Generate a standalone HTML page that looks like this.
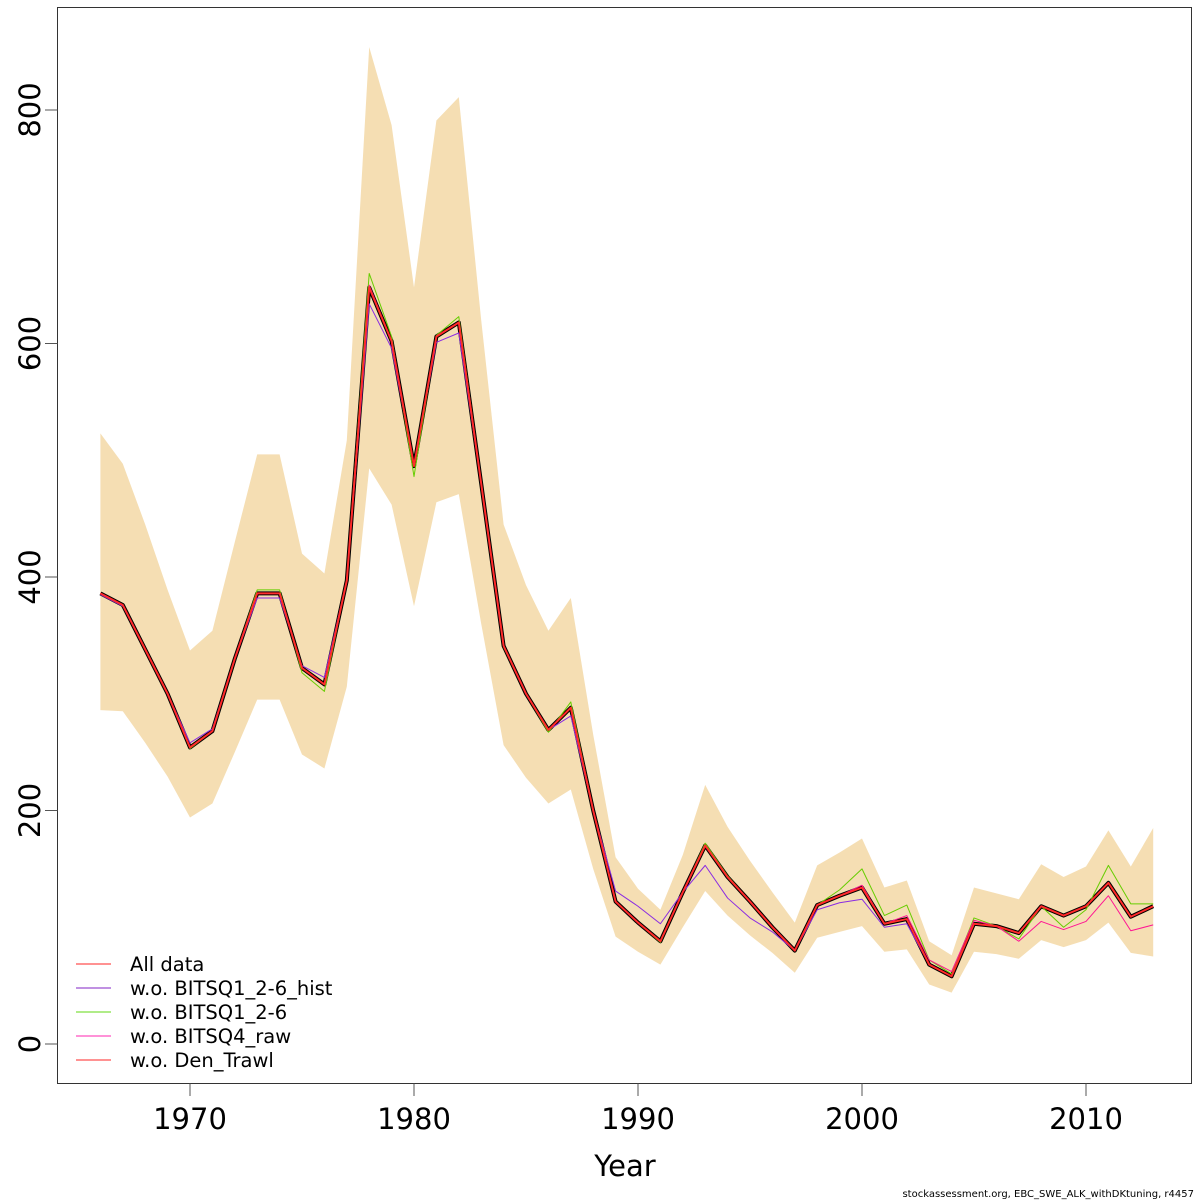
<!DOCTYPE html>
<html><head><meta charset="utf-8"><style>
body{margin:0;background:#fff}
svg{display:block;font-family:"DejaVu Sans","Liberation Sans",sans-serif}
</style></head><body>
<svg id="c" width="1200" height="1200" viewBox="0 0 1200 1200"></svg>
<script>
const years=[];for(let y=1966;y<=2013;y++)years.push(y);
const upper=[523,497,445,389,337,354,430,505,505,420,403,517,854,787,648,791,811,620,445,393,354,382,265,160,133,115,162,222,186,157,130,104,153,164,176,134,140,88,76,134,129,124,154,143,152,183,152,185];
const lower=[286,285,258,229,194,206,250,295,295,248,236,306,493,462,375,464,471,360,256,228,206,218,150,92,79,68,100,131,110,93,78,61,91,96,101,79,81,51,44,79,77,73,89,83,89,104,78,75];
const allData=[386,376,338,300,254,268,330,386,386,322,308,397,648,602,495,606,618,480,341,300,269,288,200,122,104,88,130,170,143,122,100,80,119,127,134,103,107,68,58,103,101,95,118,110,118,138,109,118];
const woHist=[385,375,338,300,258,270,330,382,382,324,314,397,634,596,495,601,609,480,341,300,269,281,200,131,118,103,130,153,125,108,96,80,115,121,124,100,103,68,58,103,101,95,118,110,118,138,109,118];
const woQ1=[386,376,338,300,253,268,330,389,389,318,302,398,660,606,486,607,623,480,340,300,267,293,200,122,104,87,130,172,144,122,100,80,119,132,150,110,119,72,60,108,101,90,118,100,115,153,120,120];
const woQ4=[386,376,338,300,254,268,330,386,386,322,308,397,650,602,495,606,618,480,341,300,269,288,200,122,104,88,130,170,143,122,100,80,119,127,136,103,110,72,62,106,101,88,105,98,105,127,97,102];
const woDen=allData.slice();
const yTicks=[0,200,400,600,800];
const xTicks=[1970,1980,1990,2000,2010];

const X=y=>190+(y-1970)*22.4;
const Y=v=>1044-v*1.1675;
const svg=document.getElementById('c');
const NS='http://www.w3.org/2000/svg';
function mk(t,a,p){const e=document.createElementNS(NS,t);for(const k in a)e.setAttribute(k,a[k]);(p||svg).appendChild(e);return e;}

const band=mk('polygon',{fill:'#f5deb3',points:years.map((y,i)=>X(y)+','+Y(upper[i])).concat(years.map((y,i)=>X(y)+','+Y(lower[i])).reverse()).join(' ')});



function line(vals,color,w,name){
  const p=mk('polyline',{fill:'none',stroke:color,'stroke-width':w,'stroke-linejoin':'round',points:years.map((y,i)=>X(y)+','+Y(vals[i])).join(' ')});
  
  
}
line(allData,'#000',4,'all-data-base-line');
line(woHist,'#8a2be2',1,'wo-bitsq1-hist-line');
line(woQ1,'#66cd00',1,'wo-bitsq1-line');
line(woQ4,'#ff1493',1,'wo-bitsq4-raw-line');
line(woDen,'#ff2020',2,'wo-den-trawl-line');
line(allData,'#ff3030',1,'all-data-line');

const box=mk('rect',{x:57.5,y:7.5,width:1134,height:1076,fill:'none',stroke:'#333','stroke-width':1});



yTicks.forEach(v=>{
  mk('line',{x1:45,x2:57.5,y1:Y(v),y2:Y(v),stroke:'#555'});
  const t=mk('text',{x:0,y:0,'font-size':29,'text-anchor':'middle',transform:`translate(40,${Y(v)}) rotate(-90)`});
  t.textContent=v;
  
  
});
xTicks.forEach(v=>{
  mk('line',{x1:X(v),x2:X(v),y1:1083.5,y2:1096,stroke:'#555'});
  const t=mk('text',{x:X(v),y:1129,'font-size':29,'text-anchor':'middle'});
  t.textContent=v;
  
  
});
const xt=mk('text',{x:625,y:1176,'font-size':29,'text-anchor':'middle'});xt.textContent='Year';


const ft=mk('text',{x:1194,y:1197,'font-size':10,'text-anchor':'end'});ft.textContent='stockassessment.org, EBC_SWE_ALK_withDKtuning, r4457';



const legNames=['All data','w.o. BITSQ1_2-6_hist','w.o. BITSQ1_2-6','w.o. BITSQ4_raw','w.o. Den_Trawl'];
const legCols=['#ff5050','#9b4fd0','#80e040','#ff50c0','#ff5050'];
legNames.forEach((n,i)=>{
  const g=mk('g',{});
  
  
  const yy=964+i*24;
  mk('line',{x1:76,x2:111,y1:yy,y2:yy,stroke:legCols[i],'stroke-width':1.3},g);
  const t=mk('text',{x:130,y:yy+7,'font-size':19.5},g);t.textContent=n;
});
</script>
</body></html>
